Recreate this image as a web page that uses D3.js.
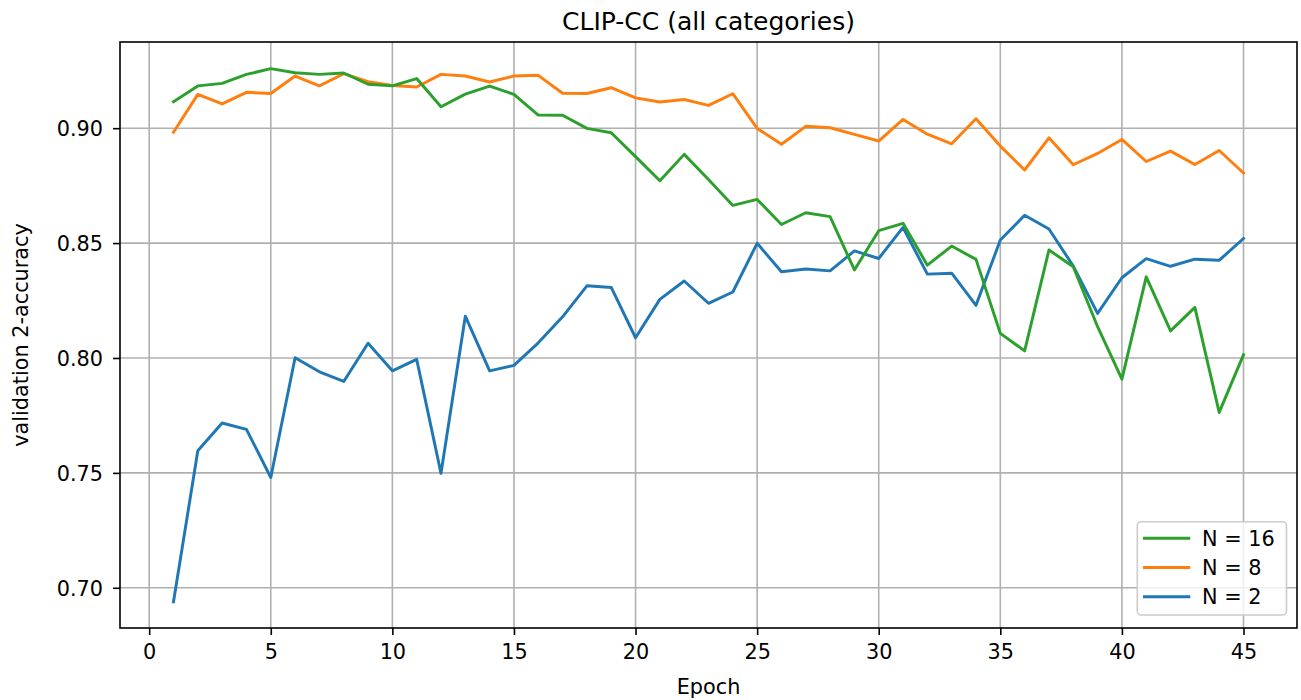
<!DOCTYPE html>
<html>
<head>
<meta charset="utf-8">
<script src="https://cdn.jsdelivr.net/npm/d3@7"></script>
<style>
  html, body { margin: 0; padding: 0; background: #fff; }
  svg { display: block; font-family: "DejaVu Sans", sans-serif; }
</style>
</head>
<body>
<svg id="chart" width="1301" height="700"></svg>
<script>
// Validation 2-accuracy per epoch for three values of N
const epochs = [1, 2, 3, 4, 5, 6, 7, 8, 9, 10, 11, 12, 13, 14, 15, 16, 17, 18, 19, 20,
  21, 22, 23, 24, 25, 26, 27, 28, 29, 30, 31, 32, 33, 34, 35, 36, 37, 38, 39, 40,
  41, 42, 43, 44, 45];

const accN2 = [0.6939, 0.7596, 0.7717, 0.7689, 0.7480, 0.8001, 0.7940, 0.7898, 0.8064, 0.7944,
  0.7994, 0.7498, 0.8182, 0.7944, 0.7968, 0.8066, 0.8179, 0.8314, 0.8307, 0.8088,
  0.8255, 0.8335, 0.8238, 0.8287, 0.8499, 0.8375, 0.8387, 0.8379, 0.8466, 0.8433,
  0.8568, 0.8365, 0.8369, 0.8229, 0.8513, 0.8621, 0.8561, 0.8400, 0.8194, 0.8349,
  0.8432, 0.8399, 0.8430, 0.8425, 0.8520];

const accN8 = [0.8982, 0.9147, 0.9106, 0.9156, 0.9151, 0.9227, 0.9184, 0.9237, 0.9202, 0.9186,
  0.9179, 0.9234, 0.9227, 0.9201, 0.9227, 0.9230, 0.9152, 0.9151, 0.9176, 0.9132,
  0.9114, 0.9125, 0.9099, 0.9150, 0.8999, 0.8930, 0.9008, 0.9002, 0.8973, 0.8944,
  0.9038, 0.8974, 0.8932, 0.9041, 0.8922, 0.8818, 0.8958, 0.8841, 0.8890, 0.8951,
  0.8855, 0.8900, 0.8842, 0.8903, 0.8805];

const accN16 = [0.9115, 0.9184, 0.9195, 0.9234, 0.9259, 0.9241, 0.9234, 0.9240, 0.9191, 0.9184,
  0.9216, 0.9093, 0.9148, 0.9183, 0.9147, 0.9057, 0.9056, 0.8999, 0.8980, 0.8876,
  0.8771, 0.8886, 0.8777, 0.8664, 0.8690, 0.8581, 0.8632, 0.8615, 0.8383, 0.8554,
  0.8586, 0.8404, 0.8487, 0.8429, 0.8107, 0.8031, 0.8470, 0.8397, 0.8136, 0.7908,
  0.8353, 0.8118, 0.8220, 0.7763, 0.8014];

const seriesNames = ["N = 2", "N = 8", "N = 16"];
const seriesColors = ["#1f77b4", "#ff7f0e", "#2ca02c"];
const xTicks = [0, 5, 10, 15, 20, 25, 30, 35, 40, 45];
const yTicks = [0.70, 0.75, 0.80, 0.85, 0.90];

const chartTitle = "CLIP-CC (all categories)";
const xLabel = "Epoch";
const yLabel = "validation 2-accuracy";

const series = [accN2, accN8, accN16].map((vals, i) => ({
  name: seriesNames[i],
  color: seriesColors[i],
  points: epochs.map((e, j) => ({ x: e, y: vals[j] }))
}));

// Plot frame
const plotL = 120, plotR = 1297, plotT = 42, plotB = 628;
const FONT = 20.8;
const TITLE_FONT = 25;
const LW = 2.95;

const svg = d3.select("#chart");

const x = d3.scaleLinear().domain([-1.2, 47.2]).range([plotL, plotR]);
const y = d3.scaleLinear().domain([0.6825, 0.9375]).range([plotB, plotT]);

// Grid
const grid = svg.append("g").attr("stroke", "#b0b0b0").attr("stroke-width", 1.6);
grid.selectAll(".gx").data(xTicks).join("line")
  .attr("x1", d => x(d)).attr("x2", d => x(d))
  .attr("y1", plotT).attr("y2", plotB);
grid.selectAll(".gy").data(yTicks).join("line")
  .attr("x1", plotL).attr("x2", plotR)
  .attr("y1", d => y(d)).attr("y2", d => y(d));

// Lines
const line = d3.line().x(d => x(d.x)).y(d => y(d.y));
svg.append("g").selectAll("path").data(series).join("path")
  .attr("d", d => line(d.points))
  .attr("fill", "none")
  .attr("stroke", d => d.color)
  .attr("stroke-width", LW)
  .attr("stroke-linejoin", "round")
  .attr("stroke-linecap", "square");

// Axes
const xAxis = svg.append("g")
  .attr("transform", `translate(0,${plotB})`)
  .call(d3.axisBottom(x).tickValues(xTicks).tickFormat(d3.format("d")).tickSize(7).tickSizeOuter(0));
xAxis.select(".domain").remove();
xAxis.selectAll(".tick line").attr("stroke", "#000").attr("stroke-width", 1.6);
xAxis.selectAll(".tick text")
  .attr("y", 31.3).attr("dy", null)
  .attr("fill", "#000")
  .style("font-size", FONT + "px")
  .style("font-family", "DejaVu Sans");

const yAxis = svg.append("g")
  .attr("transform", `translate(${plotL},0)`)
  .call(d3.axisLeft(y).tickValues(yTicks).tickFormat(d3.format(".2f")).tickSize(7).tickSizeOuter(0));
yAxis.select(".domain").remove();
yAxis.selectAll(".tick line").attr("stroke", "#000").attr("stroke-width", 1.6);
yAxis.selectAll(".tick text")
  .attr("x", -17).attr("dy", "0.36em")
  .attr("fill", "#000")
  .style("font-size", FONT + "px")
  .style("font-family", "DejaVu Sans");

// Spines
svg.append("rect")
  .attr("x", plotL).attr("y", plotT)
  .attr("width", plotR - plotL).attr("height", plotB - plotT)
  .attr("fill", "none").attr("stroke", "#000").attr("stroke-width", 1.6);

// Labels
svg.append("text")
  .attr("x", (plotL + plotR) / 2).attr("y", 29.5)
  .attr("text-anchor", "middle")
  .style("font-size", TITLE_FONT + "px")
  .text(chartTitle);

svg.append("text")
  .attr("x", (plotL + plotR) / 2).attr("y", 693.5)
  .attr("text-anchor", "middle")
  .style("font-size", FONT + "px")
  .text(xLabel);

svg.append("text")
  .attr("transform", `translate(28.3,${(plotT + plotB) / 2}) rotate(-90)`)
  .attr("text-anchor", "middle")
  .style("font-size", FONT + "px")
  .text(yLabel);

// Legend (reverse order: N = 16 first)
const legendItems = series.slice().reverse();
const lg = svg.append("g");
lg.append("rect")
  .attr("x", 1137.3).attr("y", 521.7)
  .attr("width", 149.2).attr("height", 93.3)
  .attr("rx", 4).attr("ry", 4)
  .attr("fill", "#fff").attr("fill-opacity", 0.8)
  .attr("stroke", "#cccccc").attr("stroke-width", 1.6);
const rowY = [538.3, 567.4, 596.7];
const rows = lg.selectAll(".row").data(legendItems).join("g")
  .attr("transform", (d, i) => `translate(0,${rowY[i]})`);
rows.append("line")
  .attr("x1", 1144.5).attr("x2", 1188.8)
  .attr("y1", 0).attr("y2", 0)
  .attr("stroke", d => d.color)
  .attr("stroke-width", LW)
  .attr("stroke-linecap", "square");
rows.append("text")
  .attr("x", 1202).attr("dy", "0.36em")
  .style("font-size", FONT + "px")
  .text(d => d.name);
</script>
</body>
</html>
